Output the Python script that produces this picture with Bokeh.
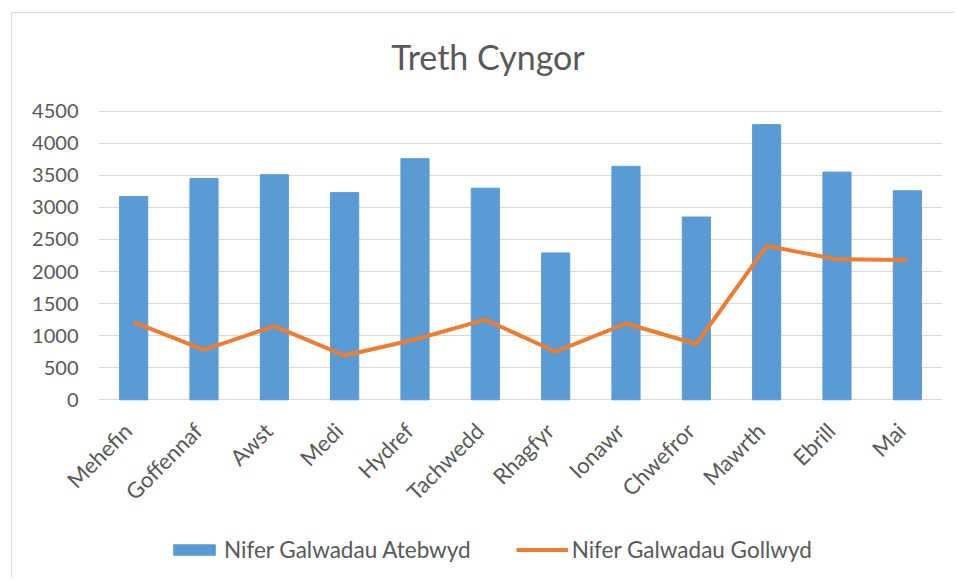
import math
from bokeh.plotting import figure
from bokeh.models import (FixedTicker, Legend, LegendItem, Range1d, ColumnDataSource,
                          BoxAnnotation, Label)
from bokeh.core.properties import value
from bokeh.embed import file_html
from bokeh.resources import INLINE

title = "Treth Cyngor"
months = ["Mehefin", "Goffennaf", "Awst", "Medi", "Hydref", "Tachwedd",
          "Rhagfyr", "Ionawr", "Chwefror", "Mawrth", "Ebrill", "Mai"]
answered = [3170, 3450, 3510, 3230, 3760, 3300, 2290, 3640, 2850, 4290, 3550, 3260]
missed = [1210, 780, 1150, 690, 940, 1250, 750, 1190, 870, 2400, 2190, 2180]
y_ticks = [0, 500, 1000, 1500, 2000, 2500, 3000, 3500, 4000, 4500]
series_names = ["Nifer Galwadau Atebwyd", "Nifer Galwadau Gollwyd"]

FONT = "Lato"
TXT = "#595959"

# category slots: month i occupies [i, i+1] on the x scale
xpos = [i + 0.5 for i in range(len(months))]
src = ColumnDataSource(dict(x=xpos, m=months, a=answered, g=missed))

# the frame fills the whole canvas; values 0..4500 occupy its middle band
p = figure(x_range=Range1d(-1.2228, len(months)), y_range=Range1d(-2786, 6023),
           width=943, height=565, output_backend="svg", toolbar_location=None,
           min_border_left=0, min_border_right=13, min_border_top=0,
           min_border_bottom=0)
p.styles = {"margin-left": "11px", "margin-top": "12px",
            "border-left": "1px solid #D9D9D9", "border-top": "1px solid #D9D9D9"}
p.title.visible = False
p.outline_line_color = None

p.xgrid.grid_line_color = None
p.ygrid.grid_line_color = "#D9D9D9"
p.ygrid.grid_line_width = 1
p.ygrid.ticker = FixedTicker(ticks=y_ticks)

# keep the gridlines to the right of the value axis
p.add_layout(BoxAnnotation(right=0, fill_color="white", fill_alpha=1,
                           line_color=None, level="underlay"))

bars = p.vbar(x="x", top="a", width=0.4, source=src, color="#5B9BD5")
line = p.line(x="x", y="g", source=src, line_color="#ED7D31", line_width=4)

p.xaxis.visible = False

p.yaxis.fixed_location = 0
p.yaxis.ticker = FixedTicker(ticks=y_ticks)
p.yaxis.axis_line_color = None
p.yaxis.major_tick_line_color = None
p.yaxis.minor_tick_line_color = None
p.yaxis.major_tick_out = 0
p.yaxis.major_tick_in = 0
p.yaxis.major_label_text_font = FONT
p.yaxis.major_label_text_font_size = "20px"
p.yaxis.major_label_text_color = TXT
p.yaxis.major_label_standoff = 20

# month labels, rotated, hanging below the zero line
p.text(x="x", y=0, text="m", source=src, angle=math.pi / 4,
       text_align="right", text_baseline="middle", x_offset=-6, y_offset=27,
       text_font=value(FONT), text_font_size="22px", text_color=TXT)

p.add_layout(Label(x=475.5, y=522, x_units="screen", y_units="screen", text=title,
                   text_align="center", text_baseline="middle", text_font=FONT,
                   text_font_size="34px", text_color=TXT))

legend = Legend(items=[LegendItem(label=series_names[0], renderers=[bars]),
                       LegendItem(label=series_names[1], renderers=[line])],
                orientation="horizontal", location=(156, 15))
legend.border_line_color = None
legend.background_fill_alpha = 0
legend.margin = 0
legend.padding = 5
legend.spacing = 45
legend.glyph_width = 52
legend.glyph_height = 13
legend.label_standoff = 4
legend.label_text_font = FONT
legend.label_text_font_size = "22.5px"
legend.label_text_color = TXT
p.add_layout(legend, "center")

open("out.html", "w").write(file_html(p, INLINE))
